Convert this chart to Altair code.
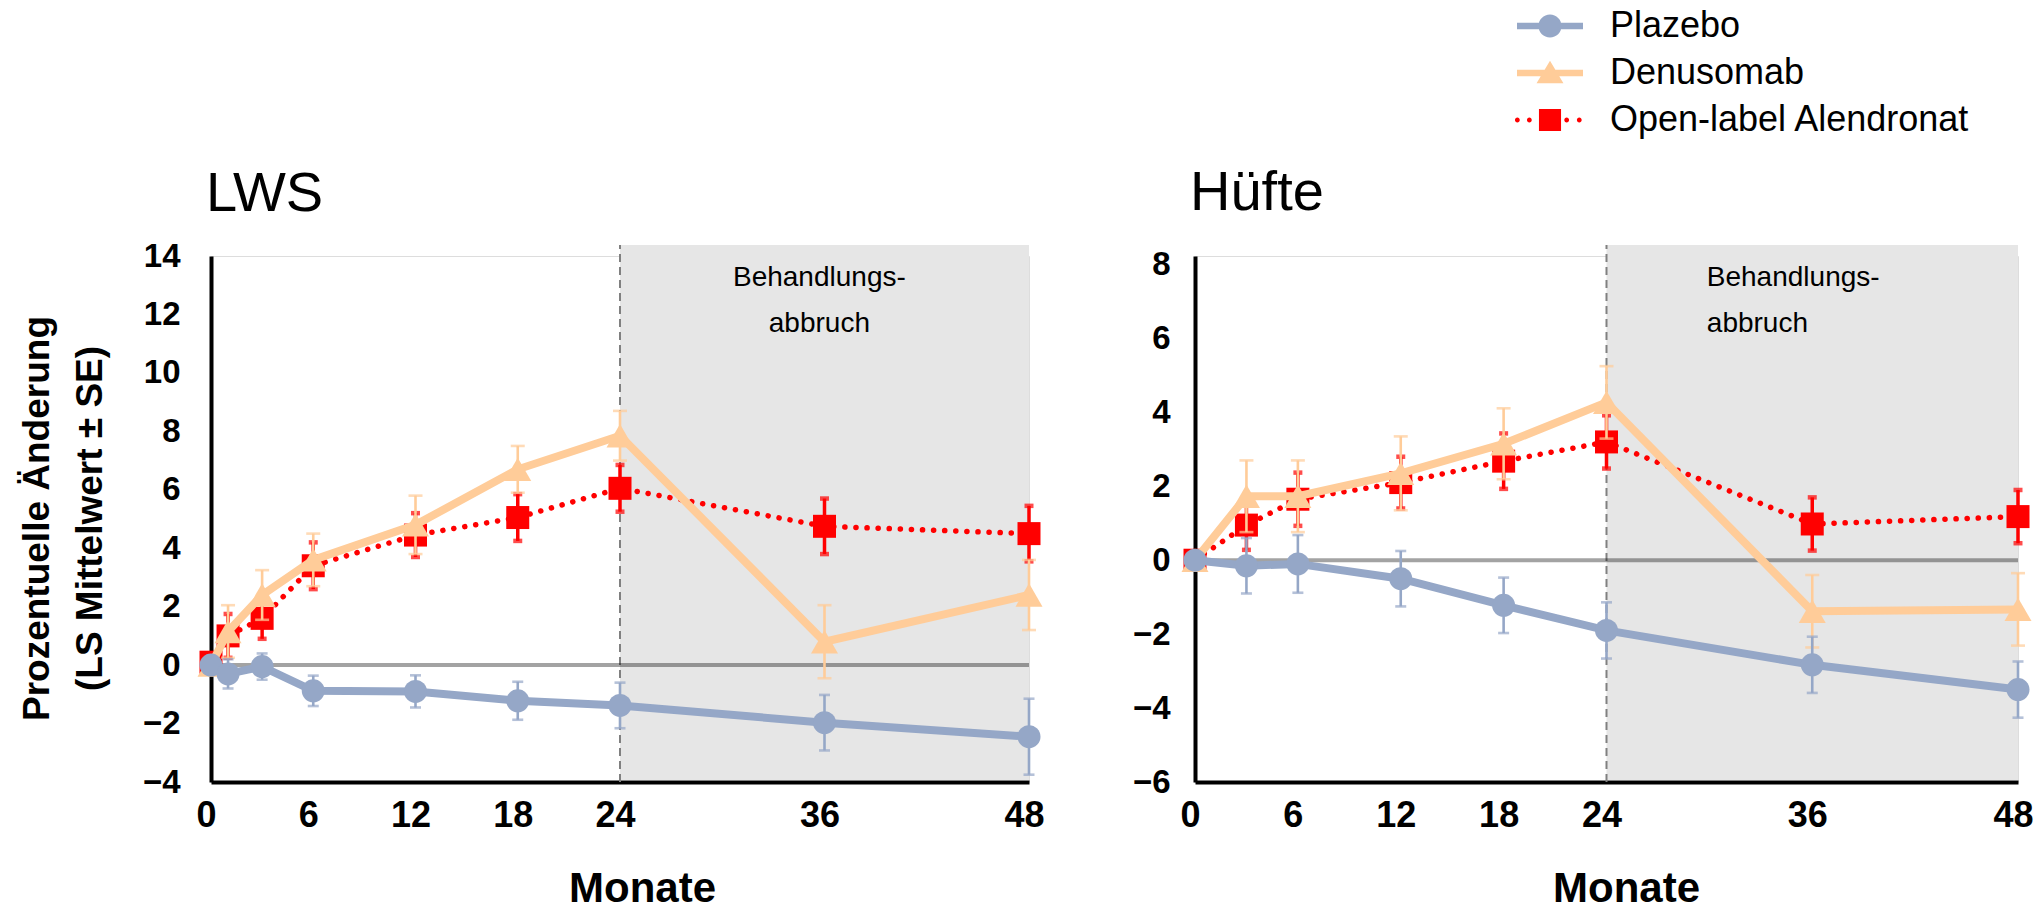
import altair as alt
import pandas as pd

FONT = "Liberation Sans"

series = ["Plazebo", "Denusomab", "Open-label Alendronat"]
colors = ["#95A7C7", "#FFCC99", "#FF0000"]

# ---- LWS (lumbar spine) ----
lws_months = [0, 1, 3, 6, 12, 18, 24, 36, 48]
lws_plazebo = [0.0, -0.3, -0.05, -0.88, -0.9, -1.22, -1.38, -1.97, -2.45]
lws_plazebo_se = [0.0, 0.5, 0.45, 0.52, 0.55, 0.65, 0.78, 0.95, 1.3]
lws_deno = [0.0, 1.15, 2.4, 3.6, 4.8, 6.7, 7.85, 0.8, 2.4]
lws_deno_se = [0.0, 0.9, 0.85, 0.9, 1.0, 0.8, 0.85, 1.25, 1.2]
lws_aln = [0.1, 1.0, 1.6, 3.4, 4.45, 5.05, 6.05, 4.75, 4.5]
lws_aln_se = [0.25, 0.75, 0.7, 0.8, 0.75, 0.8, 0.8, 0.95, 0.95]

# ---- Hüfte (hip) ----
hip_months = [0, 3, 6, 12, 18, 24, 36, 48]
hip_plazebo = [0.0, -0.15, -0.1, -0.5, -1.22, -1.9, -2.83, -3.5]
hip_plazebo_se = [0.0, 0.75, 0.78, 0.75, 0.75, 0.76, 0.76, 0.76]
hip_deno = [0.0, 1.73, 1.73, 2.35, 3.15, 4.27, -1.38, -1.33]
hip_deno_se = [0.0, 0.97, 0.97, 1.0, 0.96, 0.98, 0.98, 0.98]
hip_aln = [0.0, 0.95, 1.65, 2.1, 2.68, 3.2, 0.98, 1.18]
hip_aln_se = [0.0, 0.67, 0.72, 0.7, 0.75, 0.72, 0.72, 0.72]

x_ticks = [0, 6, 12, 18, 24, 36, 48]
lws_y_ticks = [-4, -2, 0, 2, 4, 6, 8, 10, 12, 14]
hip_y_ticks = [-6, -4, -2, 0, 2, 4, 6, 8]

band_label = "Behandlungs-\nabbruch"
y_title = ["Prozentuelle Änderung", "(LS Mittelwert ± SE)"]

STYLE = {
    "Plazebo": dict(shape="circle", size=529, width=8, dash=None, err=2.6, cap=11, capw=2.6),
    "Denusomab": dict(shape="triangle-up", size=729, width=8, dash=None, err=2.6, cap=14, capw=2.6),
    "Open-label Alendronat": dict(shape="square", size=529, width=5.5, dash=[0.1, 11], err=3.5, cap=9, capw=4.5),
}
COLOR = dict(zip(series, colors))


def long_df(months, vals, ses):
    rows = []
    for s, v, e in zip(series, vals, ses):
        for m, a, b in zip(months, v, e):
            rows.append({"month": m, "value": a, "se": b, "series": s})
    return pd.DataFrame(rows)


lws_df = long_df(lws_months, [lws_plazebo, lws_deno, lws_aln], [lws_plazebo_se, lws_deno_se, lws_aln_se])
hip_df = long_df(hip_months, [hip_plazebo, hip_deno, hip_aln], [hip_plazebo_se, hip_deno_se, hip_aln_se])


def bar(): return "M-2.75,-0.27L2.75,-0.27L2.75,0.27L-2.75,0.27Z"


def dot(cx, r):
    return f"M{cx + r},0A{r},{r},0,1,1,{cx - r},0A{r},{r},0,1,1,{cx + r},0Z"


legend_paths = [
    bar() + dot(0, 0.96),
    bar() + "M0,-1.03L1.12,0.86L-1.12,0.86Z",
    "M-0.92,-0.92L0.92,-0.92L0.92,0.92L-0.92,0.92Z" + "".join(dot(c, 0.2) for c in [-2.72, -1.72, 1.39, 2.44]),
]


def panel(df, title, title_dy, ydom, yticks, width, band_lo, band_top,
          text_x, text_y, text_align, ytitle, label_pad, legend):
    xs = alt.Scale(domain=[0, 48], nice=False, zero=False)
    ys = alt.Scale(domain=ydom, nice=False, zero=False)
    xax = alt.Axis(values=x_ticks, title="Monate", grid=False, ticks=False, domainColor="black",
                   domainWidth=4, labelFont=FONT, labelFontSize=36, labelFontWeight="bold",
                   labelColor="black", labelPadding=16, labelFlush=False, labelOffset=-5,
                   titleFont=FONT, titleFontSize=42, titleFontWeight="bold", titleColor="black",
                   titleX=431, titleY=119, titleBaseline="alphabetic", titleAlign="center")
    yargs = dict(values=yticks, grid=False, ticks=False, domainColor="black", domainWidth=4,
                 labelFont=FONT, labelFontSize=33, labelFontWeight="bold", labelColor="black",
                 labelPadding=label_pad)
    if ytitle:
        yax = alt.Axis(title=ytitle, titleFont=FONT, titleFontSize=37, titleFontWeight="bold",
                       titleColor="black", titleLineHeight=53, titleX=-174, titleY=262,
                       titleAngle=-90, titleBaseline="middle", titleAlign="center", **yargs)
    else:
        yax = alt.Axis(title=None, **yargs)

    def X(f): return alt.X(f, type="quantitative", scale=xs, axis=xax)
    def Y(f): return alt.Y(f, type="quantitative", scale=ys, axis=yax)

    band = alt.Chart(pd.DataFrame({"x": [24], "x2": [48], "y": [band_lo], "y2": [band_top]})).mark_rect(
        color="#E6E6E6").encode(x=X("x"), x2="x2", y=Y("y"), y2="y2")
    vline = alt.Chart(pd.DataFrame({"x": [24], "y": [ydom[0]], "y2": [band_top]})).mark_rule(
        color="#808080", strokeWidth=2, strokeDash=[8, 5]).encode(x=X("x"), y=Y("y"), y2="y2")
    zero = alt.Chart(pd.DataFrame({"x": [0], "x2": [48], "y": [0]})).mark_rule(
        color="black", opacity=0.36, strokeWidth=4).encode(x=X("x"), x2="x2", y=Y("y"))
    txt = alt.Chart(pd.DataFrame({"x": [text_x], "y": [text_y], "t": [band_label]})).mark_text(
        font=FONT, fontSize=28, color="black", align=text_align, baseline="alphabetic",
        lineBreak="\n", lineHeight=46).encode(x=X("x"), y=Y("y"), text="t:N")

    layers = [band, vline, zero, txt]
    for s in ["Open-label Alendronat", "Denusomab", "Plazebo"]:
        st = STYLE[s]
        c = COLOR[s]
        sub = df[df.series == s]
        base = alt.Chart(sub)
        eb = alt.Chart(sub[sub.se > 0]).transform_calculate(
            lo="datum.value - datum.se", hi="datum.value + datum.se")
        layers.append(eb.mark_rule(color=c, strokeWidth=st["err"]).encode(x=X("month"), y=Y("lo"), y2="hi"))
        layers.append(eb.mark_tick(color=c, orient="horizontal", size=st["cap"], thickness=st["capw"]).encode(
            x=X("month"), y=Y("lo")))
        layers.append(eb.mark_tick(color=c, orient="horizontal", size=st["cap"], thickness=st["capw"]).encode(
            x=X("month"), y=Y("hi")))
        lk = dict(color=c, strokeWidth=st["width"])
        if st["dash"]:
            lk.update(strokeDash=st["dash"], strokeCap="round")
        layers.append(base.mark_line(**lk).encode(x=X("month"), y=Y("value")))
        layers.append(base.mark_point(shape=st["shape"], filled=True, size=st["size"], color=c, opacity=1).encode(
            x=X("month"), y=Y("value")))

    if legend:
        leg = alt.Legend(title=None, orient="none", legendX=1321, legendY=-248, padding=0,
                         labelFont=FONT, labelFontSize=36, labelColor="black", labelOffset=42,
                         labelLimit=800, rowPadding=11, symbolSize=576, symbolStrokeWidth=0,
                         symbolOpacity=1)
        layers.append(alt.Chart(df).mark_point(filled=True, opacity=0).encode(
            x=X("month"), y=Y("value"),
            shape=alt.Shape("series:N", scale=alt.Scale(domain=series, range=legend_paths), legend=leg),
            fill=alt.Fill("series:N", scale=alt.Scale(domain=series, range=colors), legend=leg)))

    return alt.layer(*layers).properties(
        width=width, height=526,
        title=alt.TitleParams(title, anchor="start", frame="group", font=FONT, fontSize=56,
                              fontWeight="normal", color="black", offset=42, dx=-5, dy=title_dy,
                              baseline="alphabetic"))


left = panel(lws_df, "LWS", 69, [-4, 14], lws_y_ticks, 818, -3.93, 14.376,
             35.7, 12.97, "center", y_title, 31, False)
right = panel(hip_df, "Hüfte", 64, [-6, 8.23], hip_y_ticks, 823, -5.946, 8.528,
              29.85, 7.42, "left", None, 25, True)

chart = alt.hconcat(left, right, spacing=166, bounds="flush").configure_view(stroke=None).configure(
    font=FONT, padding={"left": 17, "top": 8, "right": 0, "bottom": 0})

chart.save("out.html", embed_options={"renderer": "svg", "actions": False})
